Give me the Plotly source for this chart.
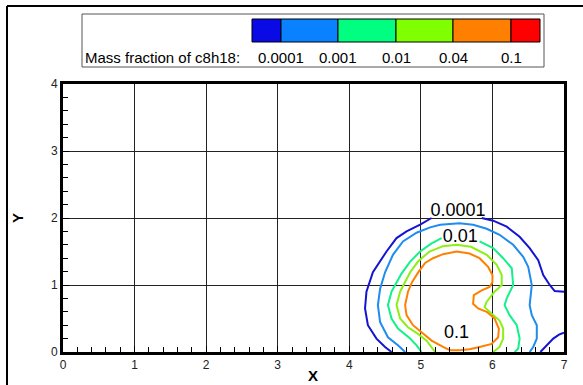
import plotly.graph_objects as go

# ---------------- data ----------------
levels = ["0.0001", "0.001", "0.01", "0.04", "0.1"]
level_colors = ["#0A0AE6", "#0A82FF", "#00FF80", "#80FF00", "#FF8000", "#FF0000"]
line_colors = ["#1414D2", "#1E8CF0", "#14F08C", "#8CF014", "#FF8000"]

# 0.0001 contour (broken where its label sits) plus the small piece at bottom-right
c0001_x = [4.59, 4.50, 4.38, 4.26, 4.22, 4.24, 4.33, 4.43, 4.52, 4.66, 4.80, 4.99, 5.15, None,
           5.85, 6.01, 6.20, 6.38, 6.52, 6.64, 6.71, 6.80, 6.87, 7.0, None,
           6.67, 6.75, 6.85, 6.93, 7.0]
c0001_y = [0.0, 0.075, 0.2, 0.40, 0.65, 0.90, 1.19, 1.35, 1.50, 1.70, 1.80, 1.90, 2.0, None,
           2.0, 1.96, 1.87, 1.72, 1.55, 1.37, 1.15, 1.0, 0.91, 0.90, None,
           0.0, 0.09, 0.2, 0.26, 0.29]

c001_x = [4.78, 4.68, 4.54, 4.43, 4.40, 4.43, 4.50, 4.61, 4.75, 4.94, 5.13, 5.27, 5.54, 5.73,
          5.92, 6.10, 6.29, 6.43, 6.50, 6.52, 6.55, 6.52, 6.55, 6.62, 6.62, 6.57, 6.52]
c001_y = [0.0, 0.10, 0.22, 0.45, 0.70, 0.94, 1.19, 1.45, 1.65, 1.78, 1.86, 1.90, 1.92, 1.90,
          1.84, 1.75, 1.60, 1.42, 1.27, 1.15, 1.0, 0.70, 0.55, 0.40, 0.2, 0.075, 0.0]

c01_x = [5.01, 4.94, 4.85, 4.68, 4.59, 4.54, 4.59, 4.66, 4.73, 4.85, 4.99, 5.15, 5.29, None,
         5.82, 6.01, 6.15, 6.27, 6.29, 6.20, 6.17, 6.24, 6.34, 6.38, 6.36, 6.31]
c01_y = [0.0, 0.1, 0.2, 0.35, 0.50, 0.70, 0.90, 1.04, 1.17, 1.35, 1.50, 1.62, 1.70, None,
         1.65, 1.55, 1.40, 1.25, 1.0, 0.80, 0.70, 0.55, 0.40, 0.20, 0.05, 0.0]

c04_x = [5.20, 5.08, 4.96, 4.82, 4.71, 4.66, 4.71, 4.78, 4.85, 4.96, 5.12, 5.31, 5.50, 5.70,
         5.92, 6.06, 6.13, 6.13, 6.03, 5.92, 5.89, 5.99, 6.10, 6.15, 6.15, 6.10, 6.01]
c04_y = [0.0, 0.17, 0.27, 0.37, 0.50, 0.70, 0.90, 1.04, 1.19, 1.35, 1.50, 1.58, 1.60, 1.57,
         1.45, 1.30, 1.15, 1.0, 0.90, 0.75, 0.67, 0.57, 0.47, 0.35, 0.20, 0.075, 0.0]

c1_x = [5.41, 5.31, 5.15, 5.01, 4.89, 4.80, 4.78, 4.82, 4.88, 4.97, 5.06, 5.17, 5.31, 5.50,
        5.68, 5.82, 5.94, 6.0, 6.0, 5.96, 5.85, 5.74, 5.73, 5.80, 5.92, 6.03, 6.09, 6.08,
        5.99, 5.82, 5.68, 5.54, 5.41]
c1_y = [0.025, 0.075, 0.17, 0.30, 0.40, 0.55, 0.70, 0.90, 1.05, 1.20, 1.33, 1.40, 1.46, 1.50,
        1.47, 1.40, 1.27, 1.15, 1.04, 0.97, 0.92, 0.85, 0.72, 0.65, 0.60, 0.50, 0.35, 0.22,
        0.12, 0.075, 0.04, 0.025, 0.025]

contours = [(c0001_x, c0001_y), (c001_x, c001_y), (c01_x, c01_y), (c04_x, c04_y), (c1_x, c1_y)]

# contour labels: text, x, y
label_text = ["0.0001", "0.01", "0.1"]
label_x = [5.52, 5.55, 5.50]
label_y = [2.09, 1.71, 0.27]

x_ticks = [0, 1, 2, 3, 4, 5, 6, 7]
y_ticks = [0, 1, 2, 3, 4]

# ---------------- layout helpers ----------------
W, H = 583, 385
L, R, T, B = 63, 564, 84, 352


def px(p):
    return (p - L) / (R - L)


def py(p):
    return (B - p) / (B - T)


fig = go.Figure()
for (xs, ys), col in zip(contours, line_colors):
    fig.add_trace(go.Scatter(x=xs, y=ys, mode="lines", line=dict(color=col, width=2),
                             hoverinfo="skip", showlegend=False))

fig.add_trace(go.Scatter(x=label_x, y=label_y, mode="text", text=label_text,
                         textfont=dict(family="Liberation Sans, Arial", size=18, color="black"),
                         showlegend=False, hoverinfo="skip"))

shapes = []
annotations = []
# outer frame lines
shapes.append(dict(type="line", xref="paper", yref="paper", x0=px(7), x1=px(583),
                   y0=py(6), y1=py(6), line=dict(color="black", width=2)))
shapes.append(dict(type="line", xref="paper", yref="paper", x0=px(7), x1=px(7),
                   y0=py(6), y1=py(385), line=dict(color="black", width=2)))
# legend box
shapes.append(dict(type="rect", xref="paper", yref="paper", x0=px(82), x1=px(544),
                   y0=py(67), y1=py(14), line=dict(color="#555", width=1), fillcolor="white"))
# color bar cells
edges = [252, 281, 338, 396, 453, 511, 540]
for i, c in enumerate(level_colors):
    shapes.append(dict(type="rect", xref="paper", yref="paper", x0=px(edges[i]), x1=px(edges[i + 1]),
                       y0=py(42), y1=py(19), line=dict(color="black", width=1), fillcolor=c))
for i, t in enumerate(levels):
    annotations.append(dict(text=t, xref="paper", yref="paper", x=px(edges[i + 1]), y=py(57),
                            showarrow=False, xanchor="center", yanchor="middle",
                            font=dict(family="Liberation Sans, Arial", size=15, color="black")))
annotations.append(dict(text="Mass fraction of c8h18:", xref="paper", yref="paper", x=px(83), y=py(57),
                        showarrow=False, xanchor="left", yanchor="middle",
                        font=dict(family="Liberation Sans, Arial", size=15, color="black")))
# axis titles
annotations.append(dict(text="<b>X</b>", xref="paper", yref="paper", x=px(313), y=py(375),
                        showarrow=False, xanchor="center", yanchor="middle",
                        font=dict(family="Liberation Sans, Arial", size=15, color="black")))
annotations.append(dict(text="<b>Y</b>", xref="paper", yref="paper", x=px(17), y=py(218),
                        showarrow=False, xanchor="center", yanchor="middle", textangle=-90,
                        font=dict(family="Liberation Sans, Arial", size=15, color="black")))

axis_common = dict(showgrid=True, gridcolor="#222", gridwidth=1, zeroline=False,
                   showline=True, linecolor="black", linewidth=3, mirror=True,
                   ticks="inside", ticklen=6, tickcolor="black", tickwidth=1,
                   tickfont=dict(family="Liberation Sans Narrow, Arial Narrow, Liberation Sans", size=12, color="#222"),
                   minor=dict(dtick=0.2, ticks="inside", ticklen=5, tickcolor="black", showgrid=False))

fig.update_layout(
    width=W, height=H,
    margin=dict(l=L, r=W - R, t=T, b=H - B, autoexpand=False),
    paper_bgcolor="white", plot_bgcolor="white",
    xaxis=dict(range=[0, 7], tickvals=x_ticks, **axis_common),
    yaxis=dict(range=[0, 4], tickvals=y_ticks, **axis_common),
    shapes=shapes, annotations=annotations,
)

fig.write_html("out.html", config={"displayModeBar": False},
               post_script="document.body.style.margin='0';")
